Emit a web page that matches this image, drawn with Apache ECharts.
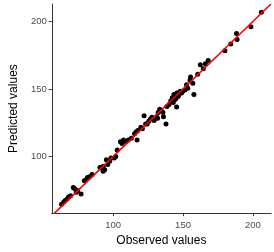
<!DOCTYPE html>
<html>
<head>
<meta charset="utf-8">
<script src="https://cdn.jsdelivr.net/npm/echarts@6/dist/echarts.min.js"></script>
<style>html,body{margin:0;padding:0;background:#fff}#c{width:274px;height:252px}</style>
</head>
<body>
<div id="c"></div>
<script>
var observed = [63.0,64.6,65.7,67.0,68.0,69.5,71.4,72.5,73.6,74.5,77.0,79.3,80.4,81.6,83.0,84.9,90.5,91.7,92.8,92.8,93.9,95.1,96.1,97.5,98.4,100.7,101.8,102.9,105.2,106.3,107.4,109.0,110.8,113.0,115.3,116.4,117.1,117.6,119.8,120.9,122.1,123.2,124.3,125.5,126.6,127.7,129.3,131.1,131.8,132.2,133.3,134.5,135.6,136.0,137.8,138.5,140.0,141.2,142.3,143.0,143.5,144.0,145.0,145.4,145.7,146.5,147.0,148.0,149.0,150.0,151.5,152.5,153.4,155.0,155.4,157.0,157.8,160.5,162.4,164.5,166.0,168.0,180.0,184.2,188.3,188.7,198.6,206.1];
var predicted = [64.5,66.2,67.4,68.5,70.0,70.8,77.0,76.0,73.4,74.8,72.2,81.9,82.5,84.3,85.0,86.7,91.8,91.5,89.1,92.8,90.2,97.6,94.0,96.5,98.8,98.8,100.0,104.8,110.9,109.6,112.1,111.0,112.1,113.5,116.9,118.1,112.1,119.3,121.7,120.5,130.2,124.1,124.1,126.1,127.8,129.0,126.6,129.5,128.3,132.6,135.0,133.8,132.6,129.5,124.1,137.0,138.5,141.1,143.5,140.0,145.9,142.0,143.0,136.7,147.1,144.5,146.0,148.3,147.0,148.5,149.5,153.1,150.5,156.5,158.8,154.3,146.0,161.0,168.0,165.0,168.8,171.2,178.3,183.3,191.1,186.7,196.1,206.8];
var tickValues = [100, 150, 200];
var refLine = [58, 213];

var pts = observed.map(function(v, i){ return [v, predicted[i]]; });
var linePts = refLine.map(function(v){ return [v, v]; });

var font = 'Liberation Sans, Arial, sans-serif';
function axis(name, gap, min, max) {
  return {
    type: 'value', min: min, max: max, name: name,
    nameLocation: 'middle', nameGap: gap,
    nameTextStyle: {color: '#000', fontSize: 12, fontFamily: font},
    splitLine: {show: false},
    axisLine: {show: true, lineStyle: {color: '#333', width: 1}},
    axisTick: {show: true, length: 3, customValues: tickValues, lineStyle: {color: '#333', width: 1}},
    axisLabel: {customValues: tickValues, color: '#4d4d4d', fontSize: 9.5, fontFamily: font, margin: 5}
  };
}
var chart = echarts.init(document.getElementById('c'));
var xa = axis('Observed values', 21, 56, 213);
xa.axisLabel.margin = 7;
var ya = axis('Predicted values', 29, 58, 213);
chart.setOption({
  animation: false,
  backgroundColor: '#fff',
  grid: {left: 39, right: 3, top: 4, bottom: 34},
  xAxis: xa,
  yAxis: ya,
  series: [
    {type: 'scatter', data: pts, symbolSize: 5, itemStyle: {color: '#000', opacity: 1}, z: 2},
    {type: 'line', data: linePts, symbol: 'none', lineStyle: {color: '#ff0000', width: 1.6}, z: 3, clip: true}
  ]
});
</script>
</body>
</html>
